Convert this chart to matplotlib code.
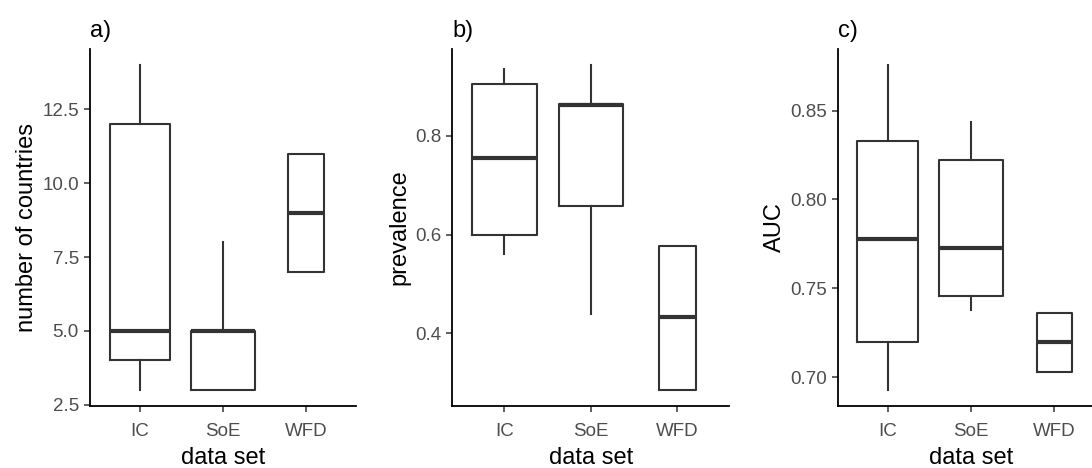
import matplotlib
matplotlib.use("Agg")
import matplotlib.pyplot as plt

plt.rcParams["font.family"] = ["Liberation Sans", "DejaVu Sans"]

categories = ["IC", "SoE", "WFD"]

# five-number summaries per data set: lower whisker, Q1, median, Q3, upper whisker
countries_lo = [3, 3, 7]
countries_q1 = [4, 3, 7]
countries_med = [5, 5, 9]
countries_q3 = [12, 5, 11]
countries_hi = [14, 8, 11]

prevalence_lo = [0.561, 0.44, 0.286]
prevalence_q1 = [0.600, 0.658, 0.286]
prevalence_med = [0.755, 0.862, 0.433]
prevalence_q3 = [0.904, 0.865, 0.577]
prevalence_hi = [0.936, 0.943, 0.577]

auc_lo = [0.693, 0.738, 0.703]
auc_q1 = [0.720, 0.7455, 0.703]
auc_med = [0.778, 0.773, 0.720]
auc_q3 = [0.833, 0.822, 0.736]
auc_hi = [0.8755, 0.8434, 0.736]

# box widths (variable width boxes)
widths_a = [0.72, 0.77, 0.43]
widths_b = [0.75, 0.745, 0.43]
widths_c = [0.73, 0.765, 0.42]

panels = [
    ("a)", "number of countries",
     (countries_lo, countries_q1, countries_med, countries_q3, countries_hi),
     [2.5, 5.0, 7.5, 10.0, 12.5], ["2.5", "5.0", "7.5", "10.0", "12.5"], widths_a,
     [90, 356]),
    ("b)", "prevalence",
     (prevalence_lo, prevalence_q1, prevalence_med, prevalence_q3, prevalence_hi),
     [0.4, 0.6, 0.8], ["0.4", "0.6", "0.8"], widths_b,
     [452.3, 729.3]),
    ("c)", "AUC",
     (auc_lo, auc_q1, auc_med, auc_q3, auc_hi),
     [0.70, 0.75, 0.80, 0.85], ["0.70", "0.75", "0.80", "0.85"], widths_c,
     [837.7, 1104.0]),
]

W, H = 1092, 468
fig = plt.figure(figsize=(W / 100, H / 100), dpi=100)

box_col = "#333333"
for title, ylabel, (lo, q1, med, q3, hi), yt, ytl, widths, (x0, x1) in panels:
    ax = fig.add_axes([x0 / W, (H - 406) / H, (x1 - x0) / W, (406 - 49) / H])
    stats = []
    for i, c in enumerate(categories):
        stats.append(dict(label=c, whislo=lo[i], q1=q1[i], med=med[i],
                          q3=q3[i], whishi=hi[i], fliers=[]))
    ax.bxp(stats, positions=[1, 2, 3], widths=widths, showcaps=False,
           showfliers=False,
           boxprops=dict(color=box_col, linewidth=1.5),
           whiskerprops=dict(color=box_col, linewidth=1.5),
           medianprops=dict(color=box_col, linewidth=3.0, solid_capstyle="butt"))
    ax.set_xlim(0.4, 3.6)
    lo_all = min(lo)
    hi_all = max(hi)
    pad = 0.05 * (hi_all - lo_all)
    ax.set_ylim(lo_all - pad, hi_all + pad)
    ax.set_yticks(yt)
    ax.set_yticklabels(ytl)
    ax.set_xticks([1, 2, 3])
    ax.set_xticklabels(categories)
    for s in ["top", "right"]:
        ax.spines[s].set_visible(False)
    for s in ["left", "bottom"]:
        ax.spines[s].set_color("black")
        ax.spines[s].set_linewidth(1.3)
    ax.tick_params(axis="both", colors="#333333", width=1.1, length=4.5,
                   labelsize=13.5, labelcolor="#4d4d4d")
    ax.tick_params(axis="x", pad=7.5)
    ax.tick_params(axis="y", pad=3.5)
    ax.set_xlabel("data set", fontsize=17, color="black", labelpad=5)
    ax.set_ylabel(ylabel, fontsize=17, color="black", labelpad=3)
    ax.set_title(title, loc="left", fontsize=17, color="black", pad=9)
    ax.set_facecolor("white")

fig.savefig("out.png", dpi=100, facecolor="white")
